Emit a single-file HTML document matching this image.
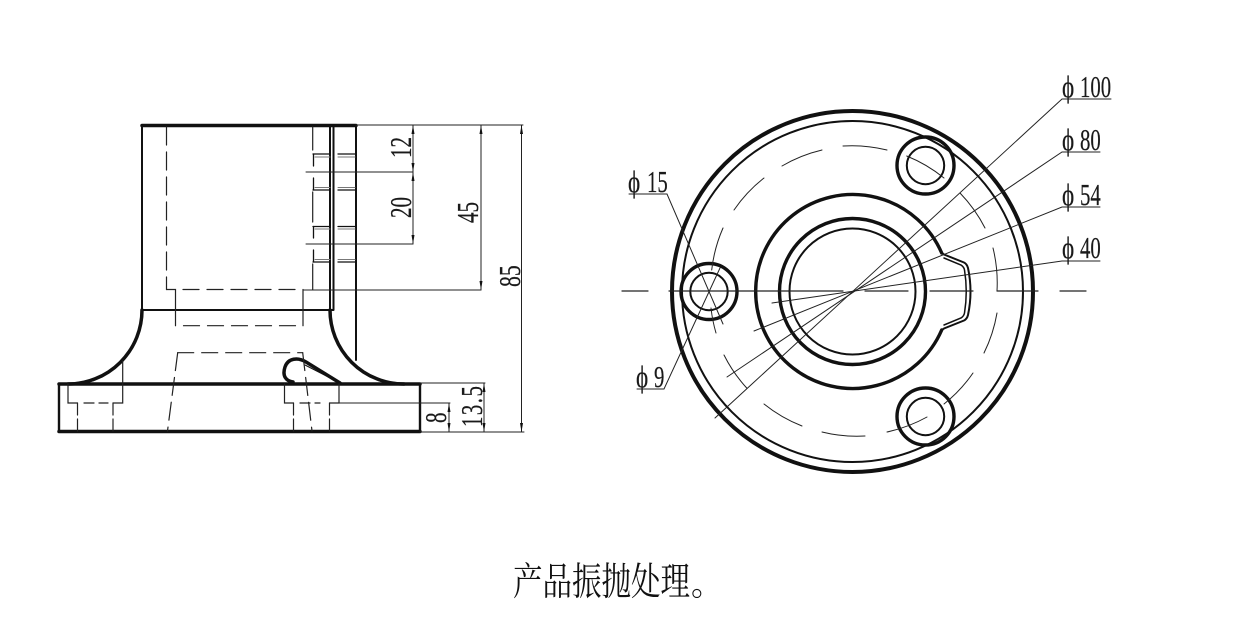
<!DOCTYPE html>
<html><head><meta charset="utf-8"><style>
html,body{margin:0;padding:0;background:#fff;width:1239px;height:636px;overflow:hidden}
svg{display:block}
.t{font-family:"Liberation Serif",serif;font-size:31px;fill:#1a1a1a;stroke:#1a1a1a;stroke-width:.2px}
</style></head><body>
<svg width="1239" height="636" viewBox="0 0 1239 636" xmlns="http://www.w3.org/2000/svg">
<rect width="1239" height="636" fill="#fff"/>
<g fill="none" stroke="#111" stroke-linecap="round">
<!-- LEFT VIEW thick -->
<g stroke-width="3.500">
<path d="M142 125.500H356"/>
<path d="M59 384H420M59 431.500H420"/>
<path d="M142 310A74 74 0 0 1 68 384"/>
<path d="M330 310A74 74 0 0 0 404 384"/>
<path d="M340 383L306 362C298 357 288 358 285 367C282 376 286 381 293 382"/>
</g>
<g stroke-width="2.400">
<path d="M59 384V431.500M420 384V431.500"/>
</g>
<g stroke-width="2">
<path d="M142 125.500V310H333"/>
<path d="M330 125.500V310M333.500 125.500V310"/>
<path d="M356 125.500V360"/>
</g>
<path d="M338 382L305 365" stroke-width="1"/>
<!-- hidden lines -->
<g stroke-width="1.200" stroke="#222">
<path d="M166.500 127V289.500" stroke-dasharray="18 7"/>
<path d="M166.500 289.500H175.500V325.700"/>
<path d="M183 289.500H297" stroke-dasharray="16 8"/>
<path d="M303 289.500V325.700"/>
<path d="M175.500 325.700H303" stroke-dasharray="16 8" stroke-dashoffset="-8"/>
<path d="M312.700 127V150M312.700 192V222M312.700 264V289.500"/>
<path d="M177.700 352.700L167.500 431" stroke-dasharray="18 7"/>
<path d="M177.700 352.700H302.700" stroke-dasharray="16 8"/>
<path d="M302.700 352.700L312 431" stroke-dasharray="18 7"/>
<path d="M68 384V403H77.500M122.700 361V403H113"/>
<path d="M84 403H108" stroke-dasharray="10 5"/>
<path d="M77.500 403V431M113 403V431" stroke-dasharray="12 4"/>
<path d="M284.500 384V403H293.500M339 384V403H329.500"/>
<path d="M300 403H320" stroke-dasharray="10 5"/>
<path d="M293.500 403V431M329.500 403V431" stroke-dasharray="12 4"/>
</g>
<!-- thread boxes -->
<g stroke-width="1.300" stroke="#111">
<path d="M313 154H330M338 154H355M313 190H330M338 190H355"/>
<path d="M313 226.500H330M338 226.500H355M313 262H330M338 262H355"/>
<path d="M313.500 154V166M313.500 178V190M313.500 226.500V238M313.500 250V262"/>
</g>
<g stroke-width="1" stroke="#777">
<path d="M315 157H330M338 157H355M315 187.500H330M338 187.500H355"/>
<path d="M315 229H330M338 229H355M315 259.500H330M338 259.500H355"/>
</g>
<!-- dims left -->
<g stroke-width="1" stroke="#222">
<path d="M356 125H523"/>
<path d="M306 172H413M306 244H413"/>
<path d="M303 290H481"/>
<path d="M420 383H485M337 403H450M420 432H524"/>
<path d="M413 125V244M481 125V290M521.500 125V432M449 403V432M484 383V432"/>
</g>
<!-- RIGHT VIEW -->
<circle cx="852.500" cy="291.500" r="180.500" stroke-width="4"/>
<circle cx="852.500" cy="291.500" r="170.500" stroke-width="2"/>
<g stroke-width="3.400">
<circle cx="852.500" cy="291.500" r="73"/>
<path d="M941.700 253A97 97 0 1 0 941.700 330"/>
<path d="M941.700 253L944 254.500L964 262.500Q967 264 968 268Q973 291.500 968 315Q967 319 964 320.500L944 328.500L941.700 330" stroke-width="2"/>
<path d="M944 258L961 265Q964 267 964.500 270Q968 291.500 964.500 313Q964 316 961 318L944 325" stroke-width="1.500"/>
<circle cx="709" cy="291.500" r="28"/>
<circle cx="925.500" cy="165.500" r="28.500"/>
<circle cx="925.500" cy="416.500" r="28.500"/>
</g>
<circle cx="852.500" cy="291.500" r="63" stroke-width="2"/>
<circle cx="709" cy="291.500" r="18.700" stroke-width="2"/>
<circle cx="925.500" cy="165.500" r="18.700" stroke-width="2"/>
<circle cx="925.500" cy="416.500" r="18.700" stroke-width="2"/>
<!-- PCD arcs -->
<g stroke-width="1" stroke="#222">
<path d="M782 166A145 145 0 0 1 822 150"/>
<path d="M843 146A145 145 0 0 1 887 150"/>
<path d="M906.700 156A145 145 0 0 1 944 178"/>
<path d="M960 193A145 145 0 0 1 985 228"/>
<path d="M993 248A145 145 0 0 1 997 291"/>
<path d="M997 313A145 145 0 0 1 984 353"/>
<path d="M973 373A145 145 0 0 1 944 404"/>
<path d="M927 417A145 145 0 0 1 887 432"/>
<path d="M865 436A145 145 0 0 1 822 432"/>
<path d="M802 426A145 145 0 0 1 764 404"/>
<path d="M746.700 388A145 145 0 0 1 724 355"/>
<path d="M716 333A145 145 0 0 1 711 308"/>
<path d="M711.700 270A145 145 0 0 1 723 228"/>
<path d="M734 210A145 145 0 0 1 764 178"/>
</g>
<!-- centre line -->
<path d="M622 291H648M669 291H843M865 291H908M930 291H973M997 291H1038M1060 291H1086" stroke-width="1.200" stroke="#222"/>
<!-- leaders -->
<g stroke-width="1" stroke="#222">
<path d="M1111 99H1062L715 418"/>
<path d="M1100 152H1062L727 377"/>
<path d="M1100 207H1062L754 331"/>
<path d="M1100 261H1062L772 303"/>
<path d="M629 194H667L723 324"/>
<path d="M637 389H664L720 268"/>
</g>
</g>
<!-- arrowheads -->
<g fill="#111">
<path d="M413 125l-1.500 9h3zM413 172l-1.500-9h3zM413 172l-1.500 9h3zM413 244l-1.500-9h3z"/>
<path d="M481 125l-1.500 9h3zM481 290l-1.500-9h3z"/>
<path d="M521.500 125l-1.500 9h3zM521.500 432l-1.500-9h3z"/>
<path d="M449 403l-1.500 9h3zM449 432l-1.500-9h3z"/>
<path d="M484 383l-1.500 9h3zM484 432l-1.500-9h3z"/>
</g>
<!-- dim text -->
<g>
<text class="t" transform="translate(411,158) rotate(-90) scale(.68,1)">12</text>
<text class="t" transform="translate(411,218) rotate(-90) scale(.68,1)">20</text>
<text class="t" transform="translate(478,223) rotate(-90) scale(.68,1)">45</text>
<text class="t" transform="translate(520,287) rotate(-90) scale(.7,1)">85</text>
<text class="t" transform="translate(446,423) rotate(-90) scale(.68,1)">8</text>
<text class="t" transform="translate(482,427) rotate(-90) scale(.67,1)" textLength="61">13.5</text>
<text class="t" transform="translate(1062,97) scale(.75,1)">ϕ</text>
<text class="t" transform="translate(1080,97) scale(.67,1)">100</text>
<text class="t" transform="translate(1062,150) scale(.75,1)">ϕ</text>
<text class="t" transform="translate(1080,150) scale(.67,1)">80</text>
<text class="t" transform="translate(1062,205) scale(.75,1)">ϕ</text>
<text class="t" transform="translate(1080,205) scale(.67,1)">54</text>
<text class="t" transform="translate(1062,258) scale(.75,1)">ϕ</text>
<text class="t" transform="translate(1080,258) scale(.67,1)">40</text>
<text class="t" transform="translate(628,192) scale(.75,1)">ϕ</text>
<text class="t" transform="translate(647,192) scale(.67,1)">15</text>
<text class="t" transform="translate(636,387) scale(.75,1)">ϕ</text>
<text class="t" transform="translate(654,387) scale(.67,1)">9</text>
</g>
<text transform="translate(513,595) scale(1,1.300)" style="font-family:'Liberation Serif','Noto Serif CJK SC',serif;font-size:29.500px;fill:#111">产品振抛处理</text>
<text transform="translate(691,595)" style="font-family:'Liberation Serif','Noto Serif CJK SC',serif;font-size:32px;fill:#111">。</text>
</svg>
</body></html>
